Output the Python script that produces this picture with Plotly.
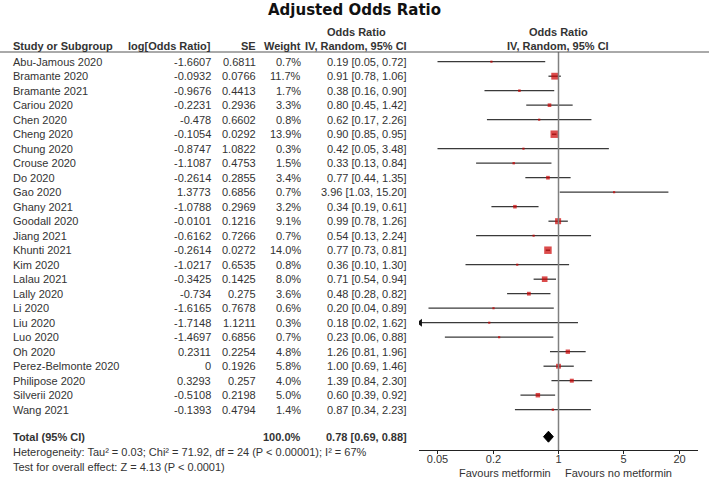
import plotly.graph_objects as go
import math

studies = ["Abu-Jamous 2020", "Bramante 2020", "Bramante 2021", "Cariou 2020", "Chen 2020",
           "Cheng 2020", "Chung 2020", "Crouse 2020", "Do 2020", "Gao 2020", "Ghany 2021",
           "Goodall 2020", "Jiang 2021", "Khunti 2021", "Kim 2020", "Lalau 2021", "Lally 2020",
           "Li 2020", "Liu 2020", "Luo 2020", "Oh 2020", "Perez-Belmonte 2020",
           "Philipose 2020", "Silverii 2020", "Wang 2021"]
log_or = [-1.6607, -0.0932, -0.9676, -0.2231, -0.478, -0.1054, -0.8747, -1.1087, -0.2614,
          1.3773, -1.0788, -0.0101, -0.6162, -0.2614, -1.0217, -0.3425, -0.734, -1.6165,
          -1.7148, -1.4697, 0.2311, 0, 0.3293, -0.5108, -0.1393]
se = [0.6811, 0.0766, 0.4413, 0.2936, 0.6602, 0.0292, 1.0822, 0.4753, 0.2855, 0.6856,
      0.2969, 0.1216, 0.7266, 0.0272, 0.6535, 0.1425, 0.275, 0.7678, 1.1211, 0.6856,
      0.2254, 0.1926, 0.257, 0.2198, 0.4794]
weight = [0.7, 11.7, 1.7, 3.3, 0.8, 13.9, 0.3, 1.5, 3.4, 0.7, 3.2, 9.1, 0.7, 14.0, 0.8,
          8.0, 3.6, 0.6, 0.3, 0.7, 4.8, 5.8, 4.0, 5.0, 1.4]
odds = [0.19, 0.91, 0.38, 0.80, 0.62, 0.90, 0.42, 0.33, 0.77, 3.96, 0.34, 0.99, 0.54, 0.77,
        0.36, 0.71, 0.48, 0.20, 0.18, 0.23, 1.26, 1.00, 1.39, 0.60, 0.87]
ci_lo = [0.05, 0.78, 0.16, 0.45, 0.17, 0.85, 0.05, 0.13, 0.44, 1.03, 0.19, 0.78, 0.13, 0.73,
         0.10, 0.54, 0.28, 0.04, 0.02, 0.06, 0.81, 0.69, 0.84, 0.39, 0.34]
ci_hi = [0.72, 1.06, 0.90, 1.42, 2.26, 0.95, 3.48, 0.84, 1.35, 15.20, 0.61, 1.26, 2.24, 0.81,
         1.30, 0.94, 0.82, 0.89, 1.62, 0.88, 1.96, 1.46, 2.30, 0.92, 2.23]

total_or = 0.78
total_lo = 0.69
total_hi = 0.88
total_weight = "100.0%"
heterogeneity = "Heterogeneity: Tau² = 0.03; Chi² = 71.92, df = 24 (P < 0.00001); I² = 67%"
overall = "Test for overall effect: Z = 4.13 (P < 0.0001)"

tick_vals = [0.05, 0.2, 1, 5, 20]
tick_text = ["0.05", "0.2", "1", "5", "20"]

W, H = 709, 478
FONT = "Liberation Sans, Arial, sans-serif"
TXT = "#333333"
RED = "#cc0000"
LOG_MIN, LOG_MAX = -1.5, 1.5
AX_MIN = 10 ** LOG_MIN

def px(x):
    return x / W

def py(y):
    return 1 - y / H

# row geometry
ROW0, ROWH = 61.7, 14.5
Y_TOP, Y_BOT = 52, 450
v_top = (Y_TOP - ROW0) / ROWH
v_bot = (Y_BOT - ROW0) / ROWH
total_row = (436.7 - ROW0) / ROWH

fig = go.Figure()

# CI lines
for i in range(len(studies)):
    lo = max(ci_lo[i], AX_MIN * 1.02)
    hi = min(ci_hi[i], 10 ** LOG_MAX)
    fig.add_trace(go.Scatter(x=[lo, hi], y=[i, i], mode="lines",
                             line=dict(color="#3a3a3a", width=1.3),
                             showlegend=False, hoverinfo="skip"))
    if ci_lo[i] < AX_MIN:
        fig.add_trace(go.Scatter(x=[AX_MIN * 1.03], y=[i], mode="markers",
                                 marker=dict(symbol="triangle-left", size=7, color="#111"),
                                 showlegend=False, hoverinfo="skip"))

# squares
fig.add_trace(go.Scatter(
    x=odds, y=list(range(len(studies))), mode="markers",
    marker=dict(symbol="square", color=RED, line=dict(width=0),
                size=[max(2.2, 2.0 * math.sqrt(w)) for w in weight]),
    showlegend=False, hoverinfo="skip"))

# diamond
hd = 5.5 / ROWH
fig.add_trace(go.Scatter(
    x=[total_lo, total_or, total_hi, total_or, total_lo],
    y=[total_row, total_row - hd, total_row, total_row + hd, total_row],
    mode="lines", fill="toself", fillcolor="black",
    line=dict(color="black", width=1), showlegend=False, hoverinfo="skip"))

shapes = [
    dict(type="line", xref="x", yref="paper", x0=1, x1=1, y0=py(Y_BOT), y1=py(Y_TOP),
         line=dict(color="#808080", width=1.5)),
    dict(type="line", xref="paper", yref="paper", x0=0, x1=1, y0=py(Y_TOP), y1=py(Y_TOP),
         line=dict(color="#555555", width=1)),
]

ann = []

def add(text, x, y, anchor="left", bold=False, yref="paper", size=11, color=TXT, family=FONT):
    t = f"<b>{text}</b>" if bold else text
    ann.append(dict(text=t, x=px(x), y=(py(y) if yref == "paper" else y), xref="paper",
                    yref=yref, xanchor=anchor, yanchor="middle", showarrow=False,
                    font=dict(family=family, size=size, color=color)))

# title
add("Adjusted Odds Ratio", 354.5, 10, anchor="center", bold=True, size=15,
    color="#111", family="DejaVu Sans, Verdana, sans-serif")

# headers
add("Study or Subgroup", 11, 46, bold=True)
add("log[Odds Ratio]", 213, 46, anchor="right", bold=True)
add("SE", 258, 46, anchor="right", bold=True)
add("Weight", 303, 46, anchor="right", bold=True)
add("Odds Ratio", 356, 32, anchor="center", bold=True)
add("IV, Random, 95% CI", 409, 46, anchor="right", bold=True)
add("Odds Ratio", 558, 32, anchor="center", bold=True)
add("IV, Random, 95% CI", 558, 46, anchor="center", bold=True)

for i, s in enumerate(studies):
    add(s, 11, i, yref="y")
    add(f"{log_or[i]:g}", 213, i, anchor="right", yref="y")
    add(f"{se[i]:g}", 258, i, anchor="right", yref="y")
    add(f"{weight[i]:.1f}%", 303, i, anchor="right", yref="y")
    add(f"{odds[i]:.2f} [{ci_lo[i]:.2f}, {ci_hi[i]:.2f}]", 409, i, anchor="right", yref="y")

add("Total (95% CI)", 11, total_row, bold=True, yref="y")
add(total_weight, 303, total_row, anchor="right", bold=True, yref="y")
add(f"{total_or:.2f} [{total_lo:.2f}, {total_hi:.2f}]", 409, total_row, anchor="right",
    bold=True, yref="y")
add(heterogeneity, 11, 452)
add(overall, 11, 466.7)

add("Favours metformin", 553, 472.5, anchor="right")
add("Favours no metformin", 563, 472.5, anchor="left")

fig.update_layout(
    width=W, height=H, margin=dict(l=0, r=0, t=0, b=0),
    paper_bgcolor="white", plot_bgcolor="white",
    shapes=shapes, annotations=ann,
    xaxis=dict(type="log", range=[LOG_MIN, LOG_MAX], domain=[px(419), px(698)],
               showgrid=False, zeroline=False, showline=True, linecolor="#222",
               linewidth=1, ticks="outside", ticklen=3, tickcolor="#222",
               ticklabelstandoff=-4,
               tickvals=tick_vals, ticktext=tick_text,
               tickfont=dict(family=FONT, size=11, color=TXT)),
    yaxis=dict(range=[v_bot, v_top], domain=[py(Y_BOT), py(Y_TOP)], visible=False,
               showgrid=False, zeroline=False),
)

fig.write_html("out.html", config={"displayModeBar": False},
               post_script="document.body.style.margin='0';document.body.style.overflow='hidden';")
